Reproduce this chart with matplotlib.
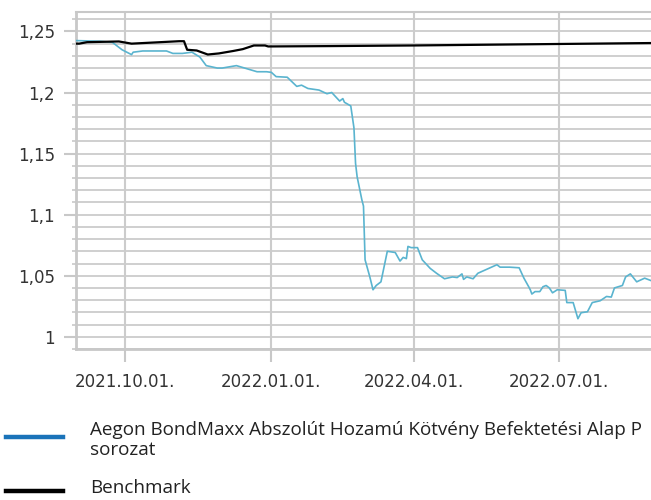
import numpy as np
import pandas as pd
import matplotlib
matplotlib.use('Agg')
import matplotlib.pyplot as plt
import matplotlib.dates as mdates
from matplotlib.ticker import MultipleLocator, FuncFormatter
from matplotlib.lines import Line2D

# Alap (P sorozat) árfolyam
fund_dates = ['2021-08-31', '2021-09-15', '2021-09-23', '2021-09-29', '2021-10-05', '2021-10-06',
              '2021-10-12', '2021-10-21', '2021-10-27', '2021-10-31', '2021-11-06', '2021-11-12',
              '2021-11-17', '2021-11-21', '2021-11-28', '2021-12-01', '2021-12-10', '2021-12-16',
              '2021-12-23', '2021-12-29', '2022-01-01', '2022-01-04', '2022-01-11', '2022-01-17',
              '2022-01-20', '2022-01-24', '2022-01-31', '2022-02-05', '2022-02-08', '2022-02-13',
              '2022-02-15', '2022-02-16', '2022-02-20', '2022-02-21', '2022-02-22', '2022-02-23',
              '2022-02-24', '2022-02-27', '2022-02-28', '2022-03-01', '2022-03-04', '2022-03-06',
              '2022-03-08', '2022-03-11', '2022-03-15', '2022-03-20', '2022-03-23', '2022-03-25',
              '2022-03-27', '2022-03-28', '2022-03-30', '2022-04-03', '2022-04-06', '2022-04-11',
              '2022-04-15', '2022-04-20', '2022-04-25', '2022-04-28', '2022-05-01', '2022-05-02',
              '2022-05-04', '2022-05-08', '2022-05-11', '2022-05-17', '2022-05-23', '2022-05-25',
              '2022-05-31', '2022-06-06', '2022-06-09', '2022-06-12', '2022-06-13', '2022-06-14',
              '2022-06-16', '2022-06-19', '2022-06-21', '2022-06-23', '2022-06-25', '2022-06-27',
              '2022-06-30', '2022-07-05', '2022-07-06', '2022-07-10', '2022-07-13', '2022-07-15',
              '2022-07-19', '2022-07-22', '2022-07-27', '2022-07-31', '2022-08-03', '2022-08-05',
              '2022-08-10', '2022-08-12', '2022-08-15', '2022-08-19', '2022-08-24', '2022-08-28']
fund_values = [1.2425, 1.242, 1.241, 1.235, 1.231, 1.233,
               1.234, 1.234, 1.234, 1.232, 1.232, 1.233,
               1.229, 1.222, 1.220, 1.220, 1.222, 1.2197,
               1.217, 1.217, 1.2165, 1.213, 1.2125, 1.205,
               1.206, 1.2033, 1.202, 1.199, 1.200, 1.193,
               1.195, 1.192, 1.189, 1.180, 1.171, 1.142,
               1.131, 1.112, 1.107, 1.063, 1.049, 1.0385,
               1.042, 1.045, 1.070, 1.069, 1.062, 1.065,
               1.064, 1.074, 1.073, 1.073, 1.063, 1.056,
               1.052, 1.0475, 1.049, 1.0485, 1.0515, 1.047,
               1.049, 1.0475, 1.052, 1.0555, 1.059, 1.057,
               1.057, 1.0565, 1.048, 1.041, 1.0385, 1.035,
               1.037, 1.037, 1.041, 1.042, 1.040, 1.036,
               1.0385, 1.038, 1.028, 1.028, 1.0148, 1.0197,
               1.0205, 1.028, 1.0295, 1.033, 1.0325, 1.040,
               1.042, 1.049, 1.0515, 1.045, 1.048, 1.046]

# Benchmark
bench_dates = ['2021-08-31', '2021-09-02', '2021-09-07', '2021-09-27', '2021-10-05', '2021-11-04',
               '2021-11-07', '2021-11-09', '2021-11-15', '2021-11-22', '2021-11-29', '2021-12-08',
               '2021-12-14', '2021-12-21', '2021-12-28', '2021-12-30', '2022-02-07', '2022-03-31',
               '2022-08-28']
bench_values = [1.240, 1.240, 1.2412, 1.2418, 1.240, 1.242,
                1.242, 1.235, 1.2344, 1.2311, 1.232, 1.234,
                1.2355, 1.2385, 1.2385, 1.2377, 1.238, 1.2385,
                1.2405]

x_ticks = ['2021-10-01', '2022-01-01', '2022-04-01', '2022-07-01']
legend_labels = ['Aegon BondMaxx Abszolút Hozamú Kötvény Befektetési Alap P\nsorozat', 'Benchmark']

fund_x = pd.to_datetime(fund_dates)
bench_x = pd.to_datetime(bench_dates)

grid_c = '#cccccc'
fig = plt.figure(figsize=(6.51, 5.0), dpi=100)
ax = fig.add_axes([0.1167, 0.302, 0.8833, 0.673])

ax.plot(fund_x, fund_values, color='#5ab4cf', lw=1.2, zorder=3)
ax.plot(bench_x, bench_values, color='#000000', lw=1.6, zorder=4)

ax.set_xlim(pd.Timestamp('2021-08-31'), pd.Timestamp('2022-08-28'))
ax.set_ylim(0.99, 1.2655)

ax.set_xticks(pd.to_datetime(x_ticks))
ax.xaxis.set_major_formatter(mdates.DateFormatter('%Y.%m.%d.'))
ax.yaxis.set_major_locator(MultipleLocator(0.05))
ax.yaxis.set_minor_locator(MultipleLocator(0.01))
ax.yaxis.set_major_formatter(FuncFormatter(lambda v, p: f'{v:.2f}'.rstrip('0').rstrip('.').replace('.', ',')))

ax.grid(True, which='both', axis='y', color=grid_c, lw=1.3)
ax.grid(True, which='major', axis='x', color=grid_c, lw=1.5)
ax.set_axisbelow(True)

ax.spines['right'].set_visible(False)
for s in ['left', 'bottom', 'top']:
    ax.spines[s].set_color('#c8c8c8')
    ax.spines[s].set_linewidth(2)
ax.spines['top'].set_linewidth(1.5)

ax.tick_params(axis='y', which='major', length=9, width=1.5, color='#c8c8c8', pad=6,
               labelsize=12, labelcolor='#333333')
ax.tick_params(axis='y', which='minor', length=3, width=1.2, color='#c8c8c8')
ax.tick_params(axis='x', which='major', length=9, width=1.5, color='#c8c8c8', pad=8,
               labelsize=12, labelcolor='#333333')

# legend drawn below the chart
fig.add_artist(Line2D([0.009, 0.097], [0.127, 0.127], color='#1a73b9', lw=3.2))
fig.text(0.138, 0.12, legend_labels[0], fontsize=13.6, family=['Open Sans', 'DejaVu Sans'],
         color='#222222', va='center', linespacing=1.15)
fig.add_artist(Line2D([0.009, 0.097], [0.018, 0.018], color='#000000', lw=3.2))
fig.text(0.138, 0.024, legend_labels[1], fontsize=13.6, family=['Open Sans', 'DejaVu Sans'],
         color='#222222', va='center')

fig.savefig('out.png', dpi=100)
